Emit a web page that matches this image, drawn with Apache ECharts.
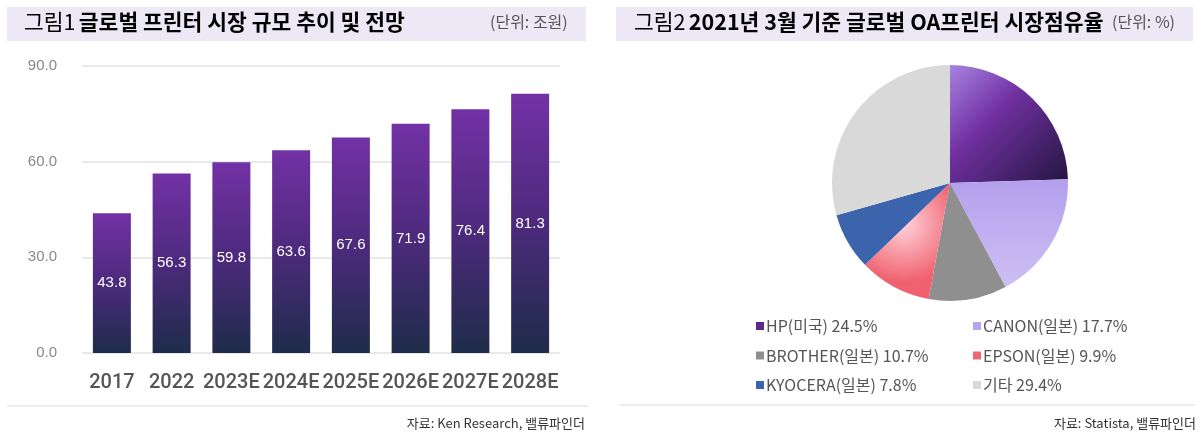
<!DOCTYPE html>
<html><head><meta charset="utf-8">
<script src="https://cdn.jsdelivr.net/npm/echarts@6/dist/echarts.min.js"></script>
<style>html,body{margin:0;padding:0;background:#fff}#c{width:1200px;height:437px}</style>
</head><body><div id="c"></div>
<script>
const categories = ['2017','2022','2023E','2024E','2025E','2026E','2027E','2028E'];
const marketSize = [43.8, 56.3, 59.8, 63.6, 67.6, 71.9, 76.4, 81.3];
const yTicks = [0, 30, 60, 90];
const shareNames = ['HP(미국)','CANON(일본)','BROTHER(일본)','EPSON(일본)','KYOCERA(일본)','기타'];
const shareValues = [24.5, 17.7, 10.7, 9.9, 7.8, 29.4];

const FONT = '"Liberation Sans","Noto Sans CJK KR",sans-serif';
const KFONT = '"Noto Sans CJK KR","Liberation Sans",sans-serif';
const chart = echarts.init(document.getElementById('c'));

const sliceStyles = [
  {color:{type:'linear',x:0,y:0,x2:1,y2:1,colorStops:[{offset:0,color:'#a883e2'},{offset:0.4,color:'#7030a0'},{offset:1,color:'#23163f'}]}},
  {color:{type:'linear',x:0,y:0,x2:0,y2:1,colorStops:[{offset:0,color:'#b3a0ee'},{offset:1,color:'#cdbff3'}]}},
  {color:'#8f8f8f'},
  {color:{type:'radial',x:0.45,y:0.35,r:0.7,colorStops:[{offset:0,color:'#ffd3da'},{offset:1,color:'#f0606e'}]}},
  {color:'#3b64ad'},
  {color:'#d9d9d9'}
];
const legendColors = ['#5a2a8a','#b7a6ee','#8f8f8f','#ee6674','#3b64ad','#d9d9d9'];
const pieData = shareNames.map((n,i)=>({name:n,value:shareValues[i],itemStyle:sliceStyles[i]}));
const valMap = {}; shareNames.forEach((n,i)=>valMap[n]=shareValues[i]);
function legendData(idx){return idx.map(i=>({name:shareNames[i],itemStyle:{color:legendColors[i]}}));}
const legendCommon = {
  orient:'vertical', icon:'rect', itemWidth:8, itemHeight:8, itemGap:11.5,
  top:312, textStyle:{fontFamily:KFONT,fontSize:16,color:'#555',lineHeight:18,padding:[0,0,0,-3]},
  formatter:n=>n+' '+valMap[n].toFixed(1)+'%'
};

chart.setOption({
  animation:false,
  graphic:[
    {type:'rect',shape:{x:7,y:7,width:579,height:34},style:{fill:'#ece8f6'},z:-1},
    {type:'rect',shape:{x:616,y:7,width:577,height:34},style:{fill:'#ece8f6'},z:-1},
    {type:'text',left:24,top:11,style:{text:'{a|그림1} {b|글로벌 프린터 시장 규모 추이 및 전망}',rich:{
      a:{fontFamily:KFONT,fontSize:21.5,color:'#5b3a8e'},
      b:{fontFamily:KFONT,fontSize:21.5,fontWeight:'bold',color:'#333'}}}},
    {type:'text',left:490,top:14,style:{text:'(단위: 조원)',fontFamily:KFONT,fontSize:16,fill:'#555'}},
    {type:'text',left:634,top:11,style:{text:'{a|그림2} {b|2021년 3월 기준 글로벌 OA프린터 시장점유율}',rich:{
      a:{fontFamily:KFONT,fontSize:21.5,color:'#5b3a8e'},
      b:{fontFamily:KFONT,fontSize:21.5,fontWeight:'bold',color:'#333'}}}},
    {type:'text',left:1112,top:14,style:{text:'(단위: %)',fontFamily:KFONT,fontSize:16,fill:'#555'}},
    {type:'line',shape:{x1:7,y1:406,x2:588,y2:406},style:{stroke:'#dcdcdc',lineWidth:1}},
    {type:'line',shape:{x1:619,y1:405,x2:1195,y2:405},style:{stroke:'#dcdcdc',lineWidth:1}},
    {type:'text',right:1200-585,top:417,style:{text:'자료: Ken Research, 밸류파인더',fontFamily:KFONT,fontSize:13,fill:'#333',align:'right'}},
    {type:'text',right:4,top:417,style:{text:'자료: Statista, 밸류파인더',fontFamily:KFONT,fontSize:13,fill:'#333',align:'right'}}
  ],
  grid:{left:82,right:640,top:66,bottom:84},
  xAxis:{type:'category',data:categories,axisLine:{show:false},axisTick:{show:false},
    axisLabel:{interval:0,fontFamily:'Roboto,"Liberation Sans",sans-serif',fontWeight:500,fontSize:20,color:'#555',margin:20}},
  yAxis:{type:'value',min:yTicks[0],max:yTicks[yTicks.length-1],interval:30,
    axisLabel:{fontFamily:FONT,fontSize:15,color:'#888',margin:25,formatter:v=>v.toFixed(1)},
    splitLine:{lineStyle:{color:'#e2e2e2',width:1.5}},axisLine:{show:false},axisTick:{show:false}},
  legend:[
    Object.assign({},legendCommon,{left:751,data:legendData([0,2,4])}),
    Object.assign({},legendCommon,{left:968,data:legendData([1,3,5])})
  ],
  series:[
    {type:'bar',data:marketSize,barWidth:38,
      itemStyle:{color:{type:'linear',x:0,y:0,x2:0,y2:1,colorStops:[{offset:0,color:'#7331a5'},{offset:0.5,color:'#4c2a7c'},{offset:1,color:'#1e2c4a'}]}},
      label:{show:true,position:'inside',color:'#fff',fontFamily:FONT,fontSize:15,formatter:p=>p.value.toFixed(1)}},
    {type:'pie',center:[950,183],radius:118,startAngle:90,data:pieData,label:{show:false},labelLine:{show:false},
      itemStyle:{borderWidth:0},emphasis:{disabled:true}}
  ]
});
</script></body></html>
